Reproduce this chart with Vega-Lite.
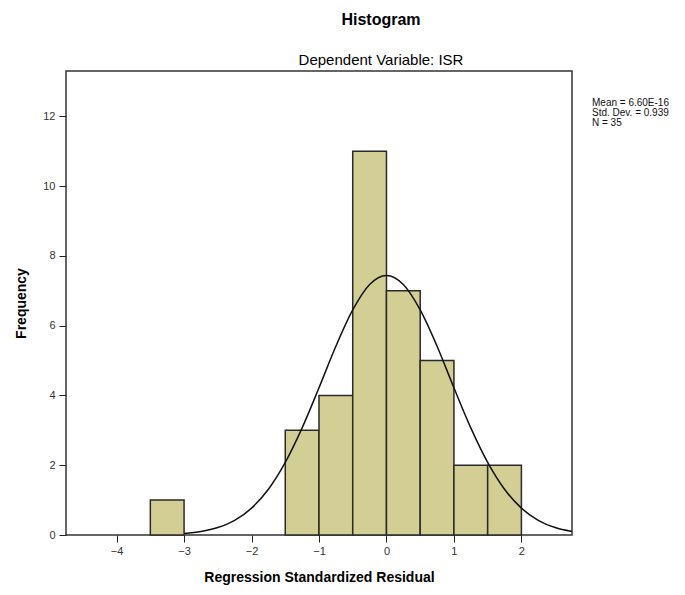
{
  "$schema": "https://vega.github.io/schema/vega-lite/v6.json",
  "width": 506,
  "height": 464,
  "autosize": {"type": "none"},
  "padding": {"left": 66, "top": 71, "right": 113, "bottom": 60},
  "background": "#ffffff",
  "title": {
    "text": "Histogram",
    "subtitle": "Dependent Variable: ISR",
    "anchor": "middle",
    "dx": 62,
    "font": "Liberation Sans",
    "fontSize": 16,
    "fontWeight": "bold",
    "color": "#000000",
    "subtitleFont": "Liberation Sans",
    "subtitleFontSize": 15,
    "subtitleFontWeight": "normal",
    "subtitleColor": "#000000",
    "subtitlePadding": 25,
    "offset": 3
  },
  "config": {
    "view": {"fill": "#f0f0f0", "stroke": "#333333", "strokeWidth": 1.5},
    "axis": {
      "grid": false,
      "domain": false,
      "tickColor": "#222222",
      "tickSize": 7,
      "labelFont": "Liberation Sans",
      "labelFontSize": 11,
      "labelColor": "#333333",
      "titleFont": "Liberation Sans",
      "titleFontSize": 14,
      "titleFontWeight": "bold",
      "titleColor": "#000000"
    }
  },
  "datasets": {
    "bins": [
      {"bin_start": -3.5, "bin_end": -3.0, "count": 1},
      {"bin_start": -1.5, "bin_end": -1.0, "count": 3},
      {"bin_start": -1.0, "bin_end": -0.5, "count": 4},
      {"bin_start": -0.5, "bin_end": 0.0, "count": 11},
      {"bin_start": 0.0, "bin_end": 0.5, "count": 7},
      {"bin_start": 0.5, "bin_end": 1.0, "count": 5},
      {"bin_start": 1.0, "bin_end": 1.5, "count": 2},
      {"bin_start": 1.5, "bin_end": 2.0, "count": 2}
    ],
    "curve": [
      {"x": -3.0, "y": 0.045},
      {"x": -2.75, "y": 0.102},
      {"x": -2.5, "y": 0.215},
      {"x": -2.25, "y": 0.42},
      {"x": -2.0, "y": 0.77},
      {"x": -1.75, "y": 1.31},
      {"x": -1.5, "y": 2.08},
      {"x": -1.25, "y": 3.07},
      {"x": -1.0, "y": 4.22},
      {"x": -0.75, "y": 5.41},
      {"x": -0.5, "y": 6.45},
      {"x": -0.25, "y": 7.18},
      {"x": 0.0, "y": 7.44},
      {"x": 0.25, "y": 7.18},
      {"x": 0.5, "y": 6.45},
      {"x": 0.75, "y": 5.41},
      {"x": 1.0, "y": 4.22},
      {"x": 1.25, "y": 3.07},
      {"x": 1.5, "y": 2.08},
      {"x": 1.75, "y": 1.31},
      {"x": 2.0, "y": 0.77},
      {"x": 2.25, "y": 0.42},
      {"x": 2.5, "y": 0.215},
      {"x": 2.75, "y": 0.102}
    ],
    "stats": [
      {"stat": "Mean = 6.60E-16", "order": 1},
      {"stat": "Std. Dev. = 0.939", "order": 2},
      {"stat": "N = 35", "order": 3}
    ]
  },
  "layer": [
    {
      "data": {"name": "bins"},
      "mark": {"type": "rect", "fill": "#d3ce94", "stroke": "#2a2a2a", "strokeWidth": 1.5},
      "encoding": {
        "x": {
          "field": "bin_start",
          "type": "quantitative",
          "scale": {"domain": [-4.75, 2.75], "nice": false, "zero": false},
          "axis": {
            "values": [-4, -3, -2, -1, 0, 1, 2],
            "format": "d",
            "title": "Regression Standardized Residual",
            "titlePadding": 14,
            "labelPadding": 3
          }
        },
        "x2": {"field": "bin_end"},
        "y": {
          "field": "count",
          "type": "quantitative",
          "scale": {"domain": [0, 13.3], "nice": false},
          "axis": {
            "values": [0, 2, 4, 6, 8, 10, 12],
            "title": "Frequency",
            "titlePadding": 14,
            "labelPadding": 4
          }
        },
        "y2": {"datum": 0}
      }
    },
    {
      "data": {"name": "curve"},
      "mark": {"type": "line", "color": "#111111", "strokeWidth": 1.5, "interpolate": "monotone", "clip": true},
      "encoding": {
        "x": {"field": "x", "type": "quantitative"},
        "y": {"field": "y", "type": "quantitative"}
      }
    },
    {
      "data": {"name": "stats"},
      "mark": {"type": "point", "opacity": 0},
      "encoding": {
        "color": {
          "field": "stat",
          "type": "nominal",
          "sort": {"field": "order"},
          "scale": {"range": ["#000000", "#000000", "#000000"]},
          "legend": {
            "title": null,
            "orient": "none",
            "legendX": 516,
            "legendY": 27,
            "symbolSize": 0,
            "symbolStrokeWidth": 0,
            "symbolOpacity": 0,
            "labelOffset": 0,
            "rowPadding": 0,
            "padding": 0,
            "labelFont": "Liberation Sans",
            "labelFontSize": 10,
            "labelColor": "#111111",
            "labelLimit": 200
          }
        }
      }
    }
  ]
}
